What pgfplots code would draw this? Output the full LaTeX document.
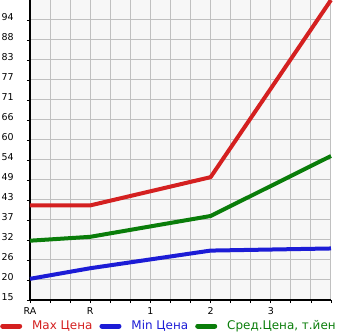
\documentclass[border=0pt]{standalone}
\usepackage{fontspec}
\setmainfont{DejaVu Sans}
\usepackage{pgfplots}
\pgfplotsset{compat=1.18}
\definecolor{cred}{HTML}{D42020}
\definecolor{cblue}{HTML}{1C1CD6}
\definecolor{cgreen}{HTML}{0A7D0A}
\definecolor{bggray}{HTML}{F7F7F7}
\definecolor{gridgray}{HTML}{C0C0C0}
\begin{document}
\begin{tikzpicture}
\useasboundingbox (0,0) rectangle (345bp,335bp);
\begin{axis}[
  at={(30bp,35bp)}, anchor=south west,
  scale only axis, width=301bp, height=300bp,
  xmin=0, xmax=5, ymin=15, ymax=100,
  axis lines*=left,
  axis line style={black, line width=2bp},
  axis background/.style={fill=bggray},
  xtick={0,1,2,3,4,5},
  xticklabels={RA,R,1,2,3,},
  minor x tick num=2,
  ytick={15,20.6667,26.3333,32,37.6667,43.3333,49,54.6667,60.3333,66,71.6667,77.3333,83,88.6667,94.3333},
  yticklabels={15,20,26,32,37,43,49,54,60,66,71,77,83,88,94},
  grid=both,
  major grid style={gridgray, line width=1bp},
  minor grid style={gridgray, line width=1bp},
  tick align=outside,
  major tick length=3bp, minor tick length=3bp,
  tick style={black, line width=0.8bp},
  /pgf/number format/assume math mode=true,
  xticklabel style={font=\fontsize{9.5}{9.5}\selectfont, yshift=-1bp},
  yticklabel style={font=\fontsize{9.5}{9.5}\selectfont, yshift=3bp, anchor=west, xshift=-29bp},
  clip=false,
  legend style={at={(axis description cs:-0.0997,-0.0867)}, anchor=west,
    draw=none, fill=none, inner sep=0pt, font=\fontsize{12}{12}\selectfont,
    /tikz/every even column/.append style={column sep=5bp},
    /tikz/every odd column/.append style={column sep=8bp}},
  legend columns=3,
  legend cell align=left,
  legend image code/.code={\draw[#1, line width=5bp, line cap=round] (2.5bp,0) -- (19.5bp,0);},
  every axis plot/.append style={line width=4bp, line join=round},
]
\addplot[cred] coordinates {(0,41.8) (1,41.8) (3,49.8) (5,100)};
\addlegendentry{\textcolor{cred}{Max Цена}}
\addplot[cblue] coordinates {(0,21.0) (1,24.0) (3,29.0) (5,29.6)};
\addlegendentry{\textcolor{cblue}{Min Цена}}
\addplot[cgreen] coordinates {(0,31.8) (1,32.9) (3,38.8) (5,55.8)};
\addlegendentry{\textcolor{cgreen}{Сред.Цена, т.йен}}
\end{axis}
\end{tikzpicture}
\end{document}
